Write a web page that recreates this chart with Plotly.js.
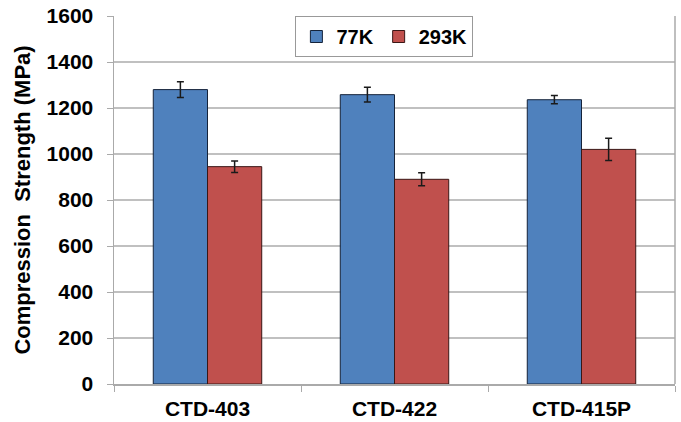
<!DOCTYPE html>
<html>
<head>
<meta charset="utf-8">
<script src="https://cdn.plot.ly/plotly-3.0.1.min.js"></script>
<style>html,body{margin:0;padding:0;background:#fff;}#chart{width:681px;height:422px;}</style>
</head>
<body>
<div id="chart"></div>
<script>
const categories = ["CTD-403", "CTD-422", "CTD-415P"];
const seriesNames = ["77K", "293K"];
const values77K = [1280, 1258, 1236];
const errors77K = [34, 32, 18];
const values293K = [945, 890, 1020];
const errors293K = [25, 28, 48];
const yTicks = [0, 200, 400, 600, 800, 1000, 1200, 1400, 1600];

const fam = "Liberation Sans, Arial, sans-serif";
const traces = [
  {type: "bar", name: seriesNames[0], x: categories, y: values77K,
   marker: {color: "#4F81BD", line: {color: "#15233A", width: 1}},
   error_y: {type: "data", array: errors77K, visible: true, color: "#1a1a1a", thickness: 1.5, width: 3.5}},
  {type: "bar", name: seriesNames[1], x: categories, y: values293K,
   marker: {color: "#C0504D", line: {color: "#3A1615", width: 1}},
   error_y: {type: "data", array: errors293K, visible: true, color: "#1a1a1a", thickness: 1.5, width: 3.5}}
];
const layout = {
  width: 681, height: 422,
  margin: {l: 114, r: 6, t: 16, b: 38},
  paper_bgcolor: "#fff", plot_bgcolor: "#fff",
  barmode: "group", bargap: 0.42, bargroupgap: 0,
  font: {family: fam, color: "#000"},
  showlegend: true,
  legend: {orientation: "h", x: 0.482, xanchor: "center", y: 1.0, yanchor: "top",
           bordercolor: "#999", borderwidth: 1, bgcolor: "#fff",
           font: {family: fam, size: 20, color: "#000", weight: "bold"},
           itemwidth: 30, tracegroupgap: 0},
  xaxis: {type: "category", showgrid: false, showline: true, linecolor: "#aaa", linewidth: 1.5,
          ticks: "outside", tickson: "boundaries", ticklen: 6, tickcolor: "#aaa", tickwidth: 1,
          ticklabelstandoff: 5,
          tickfont: {family: fam, size: 21, color: "#000", weight: "bold"}, zeroline: false},
  yaxis: {range: [0, 1600], tickvals: yTicks, ticktext: yTicks.map(String),
          showgrid: true, gridcolor: "#c0c0c0", gridwidth: 1.5,
          showline: true, linecolor: "#aaa", linewidth: 1.5, mirror: false,
          ticks: "outside", ticklen: 6, tickcolor: "#aaa", tickwidth: 1,
          ticklabelstandoff: 9,
          zeroline: false,
          tickfont: {family: fam, size: 21, color: "#000", weight: "bold"},
          title: {text: "Compression  Strength (MPa)", standoff: 10,
                  font: {family: fam, size: 22, color: "#000", weight: "bold"}}},
  shapes: [{type: "line", xref: "paper", yref: "paper", x0: 1, x1: 1, y0: 0, y1: 1,
            line: {color: "#aaa", width: 1.5}}]
};
Plotly.newPlot("chart", traces, layout, {displayModeBar: false, staticPlot: true});
</script>
</body>
</html>
